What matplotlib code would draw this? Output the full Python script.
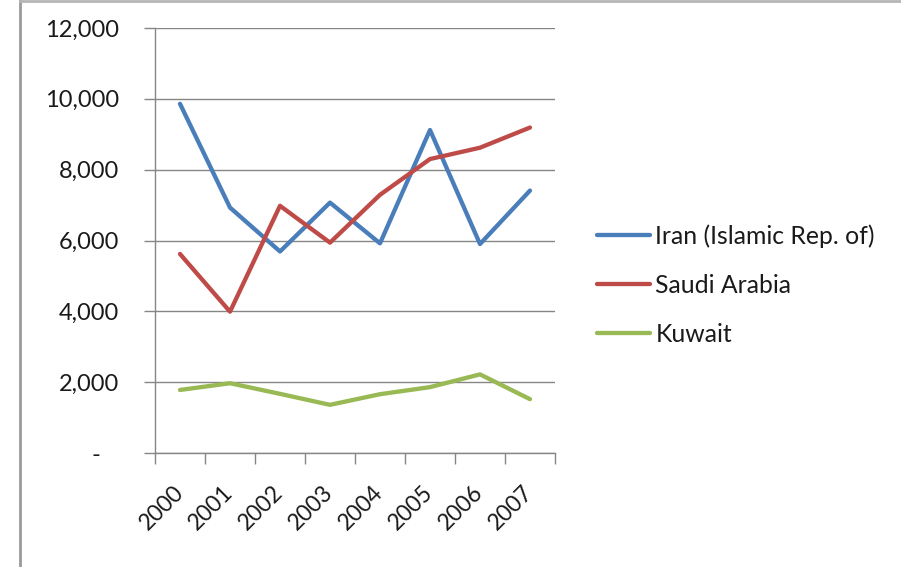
import matplotlib
matplotlib.use("Agg")
import matplotlib.pyplot as plt
from matplotlib.lines import Line2D
from matplotlib.ticker import FuncFormatter
import numpy as np

years = ["2000", "2001", "2002", "2003", "2004", "2005", "2006", "2007"]
iran = [9860, 6930, 5690, 7070, 5920, 9120, 5900, 7410]
saudi = [5620, 3990, 6980, 5940, 7290, 8300, 8620, 9190]
kuwait = [1780, 1970, 1670, 1360, 1660, 1860, 2220, 1520]
series_names = ["Iran (Islamic Rep. of)", "Saudi Arabia", "Kuwait"]
colors = ["#4A7EBB", "#BE4B48", "#98B954"]
yticks = [0, 2000, 4000, 6000, 8000, 10000, 12000]

plt.rcParams['font.family'] = ['Lato', 'DejaVu Sans']
FS = 16.5
LFS = 17.8

fig = plt.figure(figsize=(9.01, 5.67), dpi=100)
W, H = 901, 567
ax = fig.add_axes([155 / W, 1 - 453 / H, 400 / W, 425 / H])

x = np.arange(len(years))
for vals, name, c in zip([iran, saudi, kuwait], series_names, colors):
    ax.plot(x, vals, color=c, lw=3.1, solid_capstyle='round', solid_joinstyle='round', label=name)

ax.set_xlim(-0.5, len(years) - 0.5)
ax.set_ylim(0, 12000)
ax.set_yticks(yticks)
ax.yaxis.set_major_formatter(FuncFormatter(lambda v, p: "-   " if v == 0 else f"{int(v):,}"))
ax.grid(axis='y', color='#868686', lw=1)
ax.set_axisbelow(True)

ax.set_xticks(np.arange(-0.5, len(years), 1.0))
ax.set_xticklabels([])
ax.set_xticks(x, minor=True)
ax.set_xticklabels(years, minor=True, rotation=45, ha='right', va='center', rotation_mode='anchor', fontsize=FS, color='#1a1a1a')
ax.tick_params(axis='x', which='minor', length=0, pad=26)
ax.tick_params(axis='x', which='major', length=8, color='#868686', width=1, direction='out')
ax.tick_params(axis='y', length=8, color='#868686', width=1, direction='out', labelsize=17, pad=18, labelcolor='#1a1a1a')

for s in ['top', 'right']:
    ax.spines[s].set_visible(False)
for s in ['left', 'bottom']:
    ax.spines[s].set_color('#868686')
    ax.spines[s].set_linewidth(1)

leg = fig.legend(loc='center left', bbox_to_anchor=(575 / W, 1 - 285 / H), frameon=False,
                 fontsize=LFS, handlelength=2.15, handletextpad=0.2, labelspacing=1.06)
for t in leg.get_texts():
    t.set_color('#1a1a1a')

# chart area border
fig.add_artist(Line2D([19.5 / W, 19.5 / W], [0, 1], color='#9a9a9a', lw=2, transform=fig.transFigure))
fig.add_artist(Line2D([19.5 / W, 1], [1 - 0.5 / H, 1 - 0.5 / H], color='#b5b5b5', lw=2, transform=fig.transFigure))

fig.savefig("out.png", dpi=100)
